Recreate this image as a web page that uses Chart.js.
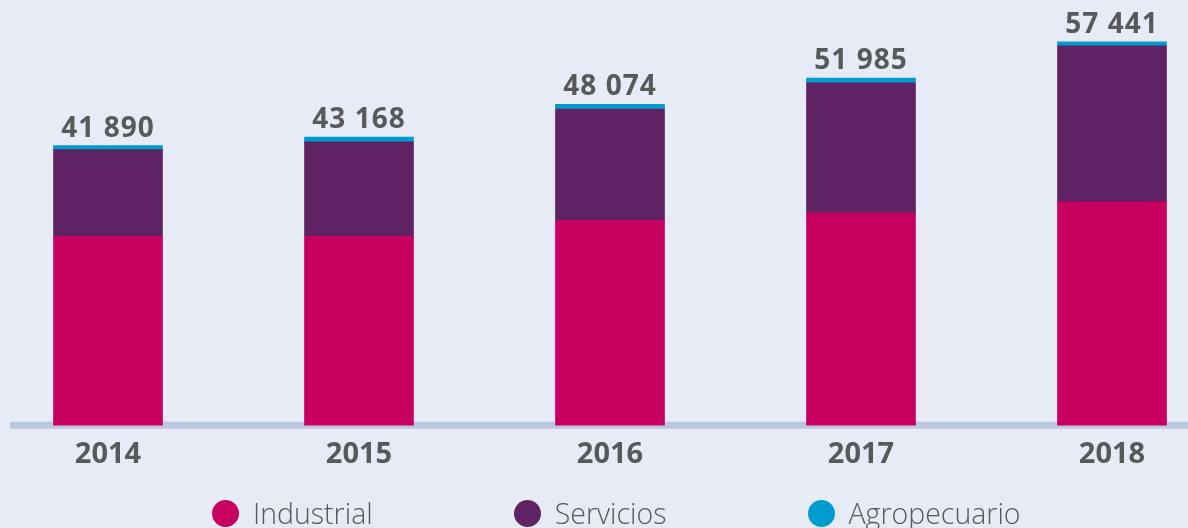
<!DOCTYPE html>
<html>
<head>
<meta charset="utf-8">
<script src="https://cdn.jsdelivr.net/npm/chart.js@4.4.1/dist/chart.umd.min.js"></script>
<style>
  html, body { margin: 0; padding: 0; background: #e7ebf6; }
  #wrap { position: relative; width: 1188px; height: 528px; overflow: hidden; background: #e7ebf6; }
  #c { position: absolute; left: 0; top: 0; }
  #legend { position: absolute; left: 212px; top: 500px; display: flex; gap: 141px; font-family: "Open Sans", sans-serif; font-weight: 300; font-size: 28.5px; color: #58595b; }
  .item { display: flex; align-items: center; height: 27px; }
  .dot { width: 27px; height: 27px; border-radius: 50%; margin-right: 14px; flex: none; }
  .lbl { line-height: 27px; }
</style>
</head>
<body>
<div id="wrap">
  <canvas id="c" width="1188" height="528"></canvas>
  <div id="legend"></div>
</div>
<script>
const categories = ['2014', '2015', '2016', '2017', '2018'];
const industrial = [28300, 28300, 30700, 31760, 33450];
const servicios = [12990, 14168, 16674, 19525, 23391];
const agropecuario = [600, 700, 700, 700, 600];
const totals = [41890, 43168, 48074, 51985, 57441];
const seriesNames = ['Industrial', 'Servicios', 'Agropecuario'];
const seriesColors = ['#c8005f', '#5f2363', '#009ccf'];

function fmt(v) {
  return String(v).replace(/\B(?=(\d{3})+(?!\d))/g, ' ');
}

const axisLine = {
  id: 'axisLine',
  beforeDatasetsDraw(chart) {
    const ctx = chart.ctx;
    const y0 = chart.scales.y.getPixelForValue(0);
    ctx.save();
    ctx.fillStyle = '#bcc6e1';
    ctx.fillRect(10, y0 - 3.5, chart.width - 10, 7);
    ctx.restore();
  }
};

const totalLabels = {
  id: 'totalLabels',
  afterDatasetsDraw(chart) {
    const ctx = chart.ctx;
    const xs = chart.scales.x, ys = chart.scales.y;
    ctx.save();
    ctx.fillStyle = '#58595b';
    ctx.font = 'bold 28px "Open Sans", sans-serif';
    try { ctx.letterSpacing = '1px'; } catch (e) {}
    ctx.textAlign = 'center';
    ctx.textBaseline = 'alphabetic';
    totals.forEach((t, i) => {
      ctx.fillText(fmt(t), xs.getPixelForValue(i), ys.getPixelForValue(t) - 9);
    });
    ctx.restore();
  }
};

const datasets = [industrial, servicios, agropecuario].map((d, i) => ({
  label: seriesNames[i],
  data: d,
  backgroundColor: seriesColors[i],
  borderWidth: 0,
  barThickness: 109,
  clip: false
}));

new Chart(document.getElementById('c'), {
  type: 'bar',
  data: { labels: categories, datasets },
  options: {
    responsive: false,
    animation: false,
    layout: { padding: { left: 108, right: 76, top: 0, bottom: 52 } },
    plugins: { legend: { display: false }, tooltip: { enabled: false } },
    scales: {
      x: {
        stacked: true,
        offset: false,
        grid: { display: false },
        border: { display: false },
        ticks: { color: '#58595b', font: { family: '"Open Sans", sans-serif', size: 29, weight: 'bold' }, padding: 4, maxRotation: 0 }
      },
      y: {
        stacked: true,
        display: false,
        min: 0,
        max: 63700
      }
    }
  },
  plugins: [axisLine, totalLabels]
});

const lg = document.getElementById('legend');
seriesNames.forEach((n, i) => {
  const it = document.createElement('div');
  it.className = 'item';
  it.innerHTML = '<span class="dot" style="background:' + seriesColors[i] + '"></span><span class="lbl">' + n + '</span>';
  lg.appendChild(it);
});
</script>
</body>
</html>
